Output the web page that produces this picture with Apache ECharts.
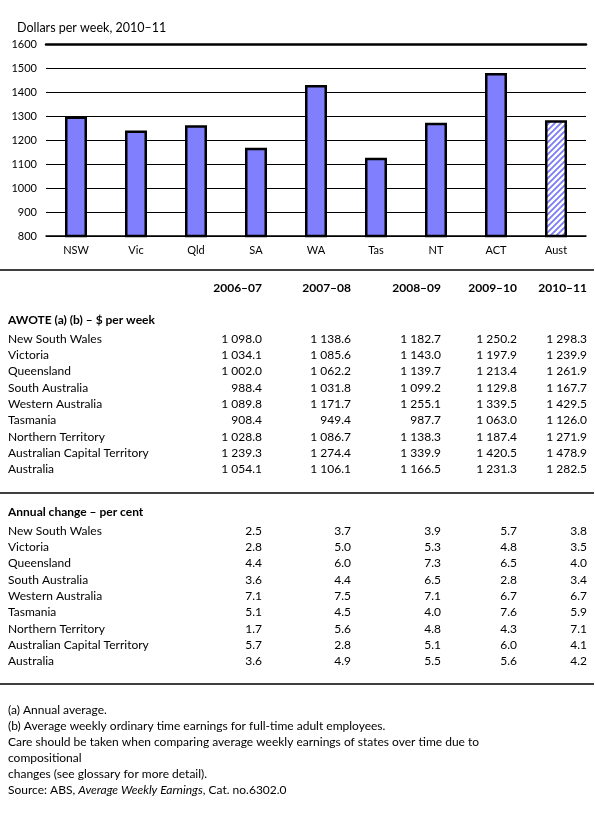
<!DOCTYPE html>
<html>
<head>
<meta charset="utf-8">
<script src="https://cdn.jsdelivr.net/npm/echarts@6/dist/echarts.min.js"></script>
<style>
  html, body { margin: 0; padding: 0; background: #fff; }
  #chart-container { width: 595px; height: 832px; }
</style>
</head>
<body>
<div id="chart-container"></div>
<script>
var abbrev = ['NSW', 'Vic', 'Qld', 'SA', 'WA', 'Tas', 'NT', 'ACT', 'Aust'];
var states = ['New South Wales', 'Victoria', 'Queensland', 'South Australia', 'Western Australia',
  'Tasmania', 'Northern Territory', 'Australian Capital Territory', 'Australia'];
var years = ['2006–07', '2007–08', '2008–09', '2009–10', '2010–11'];

var awote0607 = [1098.0, 1034.1, 1002.0, 988.4, 1089.8, 908.4, 1028.8, 1239.3, 1054.1];
var awote0708 = [1138.6, 1085.6, 1062.2, 1031.8, 1171.7, 949.4, 1086.7, 1274.4, 1106.1];
var awote0809 = [1182.7, 1143.0, 1139.7, 1099.2, 1255.1, 987.7, 1138.3, 1339.9, 1166.5];
var awote0910 = [1250.2, 1197.9, 1213.4, 1129.8, 1339.5, 1063.0, 1187.4, 1420.5, 1231.3];
var awote1011 = [1298.3, 1239.9, 1261.9, 1167.7, 1429.5, 1126.0, 1271.9, 1478.9, 1282.5];

var change0607 = [2.5, 2.8, 4.4, 3.6, 7.1, 5.1, 1.7, 5.7, 3.6];
var change0708 = [3.7, 5.0, 6.0, 4.4, 7.5, 4.5, 5.6, 2.8, 4.9];
var change0809 = [3.9, 5.3, 7.3, 6.5, 7.1, 4.0, 4.8, 5.1, 5.5];
var change0910 = [5.7, 4.8, 6.5, 2.8, 6.7, 7.6, 4.3, 6.0, 5.6];
var change1011 = [3.8, 3.5, 4.0, 3.4, 6.7, 5.9, 7.1, 4.1, 4.2];

var footnotes = [
  '(a) Annual average.',
  '(b) Average weekly ordinary time earnings for full-time adult employees.',
  'Care should be taken when comparing average weekly earnings of states over time due to',
  'compositional',
  'changes (see glossary for more detail).'
];

var FONT = 'Lato';
var dom = document.getElementById('chart-container');
var myChart = echarts.init(dom, null, { renderer: 'canvas' });

// hatched fill for the Australia bar
function hatch() {
  var c = document.createElement('canvas');
  c.width = 6; c.height = 6;
  var ctx = c.getContext('2d');
  ctx.fillStyle = '#fff';
  ctx.fillRect(0, 0, 6, 6);
  ctx.strokeStyle = '#7b7bf5';
  ctx.lineWidth = 1.8;
  ctx.beginPath();
  ctx.moveTo(-1, 7); ctx.lineTo(7, -1);
  ctx.moveTo(-4, 4); ctx.lineTo(4, -4);
  ctx.moveTo(2, 10); ctx.lineTo(10, 2);
  ctx.stroke();
  return c;
}

function fmt(v) {
  var parts = v.toFixed(1).split('.');
  var int = parts[0];
  if (int.length > 3) int = int.slice(0, int.length - 3) + ' ' + int.slice(-3);
  return int + '.' + parts[1];
}

var colRight = [262, 351, 441, 517, 587];
var awoteCols = [awote0607, awote0708, awote0809, awote0910, awote1011];
var changeCols = [change0607, change0708, change0809, change0910, change1011];

var txt = function (x, y, text, opts) {
  opts = opts || {};
  return {
    type: 'text', x: x, y: y,
    style: {
      text: text, fill: '#000',
      font: (opts.bold ? 'bold ' : '') + (opts.size || 12) + 'px ' + FONT,
      textAlign: opts.align || 'left', textVerticalAlign: 'middle'
    }
  };
};
var hline = function (y) {
  return { type: 'line', shape: { x1: 0, y1: y, x2: 594, y2: y }, style: { stroke: '#000', lineWidth: 1.5 } };
};

var graphics = [];
graphics.push(txt(17, 28, 'Dollars per week, 2010–11', { size: 12.5 }));
graphics.push(hline(270));
years.forEach(function (y, j) { graphics.push(txt(colRight[j], 288, y, { bold: true, align: 'right' })); });
graphics.push(txt(8, 320, 'AWOTE (a) (b) – $ per week', { bold: true }));
var rowStep = 16.3;
states.forEach(function (s, i) {
  var y = 339 + i * rowStep;
  graphics.push(txt(8, y, s));
  awoteCols.forEach(function (col, j) { graphics.push(txt(colRight[j], y, fmt(col[i]), { align: 'right' })); });
});
graphics.push(hline(493));
graphics.push(txt(8, 512, 'Annual change – per cent', { bold: true }));
states.forEach(function (s, i) {
  var y = 531 + i * rowStep;
  graphics.push(txt(8, y, s));
  changeCols.forEach(function (col, j) { graphics.push(txt(colRight[j], y, col[i].toFixed(1), { align: 'right' })); });
});
graphics.push(hline(684));
footnotes.forEach(function (f, i) { graphics.push(txt(8, 710 + i * 16, f)); });
graphics.push({
  type: 'text', x: 8, y: 790,
  style: {
    text: '{n|Source: ABS, }{i|Average Weekly Earnings}{n|, Cat. no.6302.0}',
    textVerticalAlign: 'middle',
    rich: {
      n: { font: '12px ' + FONT, fill: '#000' },
      i: { font: 'italic 12px ' + FONT, fill: '#000' }
    }
  }
});

var barData = awote1011.map(function (v, i) {
  return i === abbrev.length - 1
    ? { value: v, itemStyle: { color: { image: hatch(), repeat: 'repeat' } } }
    : v;
});

var option = {
  animation: false,
  textStyle: { fontFamily: FONT },
  grid: { left: 46, right: 9, top: 44, bottom: 596 },
  xAxis: [
    {
      type: 'category', data: abbrev,
      axisLine: { lineStyle: { color: '#000', width: 1.5 } },
      axisTick: { show: false },
      axisLabel: { color: '#000', fontSize: 11, margin: 9 }
    },
    {
      type: 'category', data: abbrev, position: 'top',
      axisLine: { lineStyle: { color: '#000', width: 2.5 } },
      axisTick: { show: false }, axisLabel: { show: false }
    }
  ],
  yAxis: {
    type: 'value', min: 800, max: 1600, interval: 100,
    axisLine: { show: false }, axisTick: { show: false },
    axisLabel: { color: '#000', fontSize: 11, margin: 9, formatter: function (v) { return String(v); } },
    splitLine: { lineStyle: { color: '#000', width: 1 } }
  },
  series: [{
    type: 'bar', data: barData, barWidth: 22,
    itemStyle: { color: '#8080ff', borderColor: '#000', borderWidth: 2.5 }
  }],
  graphic: graphics
};

myChart.setOption(option);
window.addEventListener('resize', myChart.resize);
</script>
</body>
</html>
